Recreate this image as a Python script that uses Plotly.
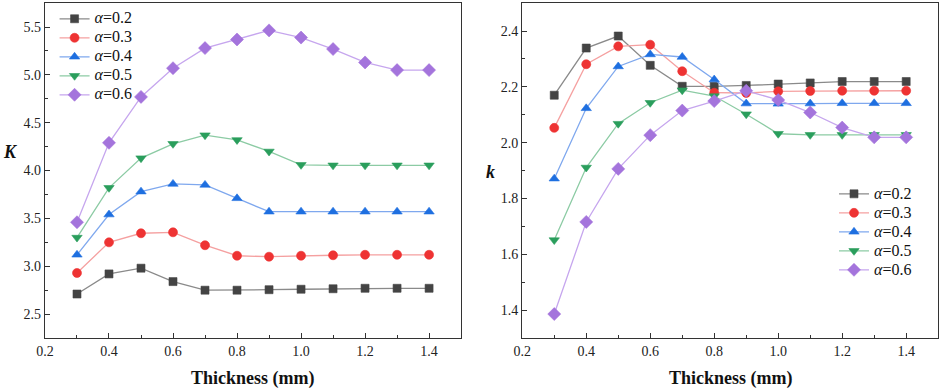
import plotly.graph_objects as go

thickness = [0.3, 0.4, 0.5, 0.6, 0.7, 0.8, 0.9, 1.0, 1.1, 1.2, 1.3, 1.4]
alphas = ["0.2", "0.3", "0.4", "0.5", "0.6"]

K_02 = [2.71, 2.92, 2.98, 2.84, 2.75, 2.75, 2.755, 2.76, 2.765, 2.77, 2.77, 2.77]
K_03 = [2.93, 3.25, 3.345, 3.355, 3.22, 3.11, 3.10, 3.11, 3.115, 3.12, 3.12, 3.12]
K_04 = [3.12, 3.54, 3.78, 3.86, 3.85, 3.71, 3.57, 3.57, 3.57, 3.57, 3.57, 3.57]
K_05 = [3.30, 3.82, 4.13, 4.28, 4.37, 4.32, 4.20, 4.06, 4.055, 4.055, 4.055, 4.055]
K_06 = [3.46, 4.29, 4.77, 5.07, 5.28, 5.37, 5.465, 5.39, 5.27, 5.13, 5.05, 5.05]

k_02 = [2.17, 2.339, 2.382, 2.277, 2.202, 2.202, 2.205, 2.21, 2.214, 2.219, 2.219, 2.219]
k_03 = [2.053, 2.281, 2.345, 2.351, 2.256, 2.179, 2.178, 2.184, 2.185, 2.186, 2.186, 2.186]
k_04 = [1.871, 2.123, 2.273, 2.316, 2.307, 2.226, 2.140, 2.139, 2.140, 2.141, 2.141, 2.141]
k_05 = [1.651, 1.911, 2.068, 2.143, 2.188, 2.167, 2.102, 2.032, 2.028, 2.028, 2.028, 2.028]
k_06 = [1.386, 1.716, 1.906, 2.027, 2.115, 2.149, 2.186, 2.153, 2.108, 2.054, 2.019, 2.019]

K_series = [K_02, K_03, K_04, K_05, K_06]
k_series = [k_02, k_03, k_04, k_05, k_06]

marker_colors = ["#444444", "#EE3333", "#1E6FE0", "#2A9E5C", "#A474DC"]
line_colors = ["#8A8A8A", "#F5A0A0", "#7FA8EE", "#8CCBA4", "#C6A6EE"]
symbols = ["square", "circle", "triangle-up", "triangle-down", "diamond"]
sizes = [8, 9, 9, 9, 10]

FONT = "Liberation Serif, Times New Roman, serif"

fig = go.Figure()
for i, a in enumerate(alphas):
    for series, xa, ya, lg in [(K_series, "x", "y", "legend"), (k_series, "x2", "y2", "legend2")]:
        fig.add_trace(go.Scatter(
            x=thickness, y=series[i], xaxis=xa, yaxis=ya, legend=lg,
            mode="lines+markers",
            name="<span style='font-size:16px'><i>α</i>=" + a + "</span>",
            line=dict(color=line_colors[i], width=1.3),
            marker=dict(symbol=symbols[i], size=sizes[i],
                        color=marker_colors[i],
                        line=dict(color=marker_colors[i], width=0.6)),
        ))

axis_common = dict(
    showline=True, linecolor="#333333", linewidth=1.2, mirror=True,
    ticks="inside", ticklen=5, tickwidth=1, tickcolor="#333333",
    showgrid=False, zeroline=False, automargin=False,
    tickfont=dict(family=FONT, size=14, color="#222222"),
)
xticks = [0.2, 0.4, 0.6, 0.8, 1.0, 1.2, 1.4]
xticktext = ["0.2", "0.4", "0.6", "0.8", "1.0", "1.2", "1.4"]
title_font = dict(family=FONT, size=18, color="#111111")

fig.update_layout(
    width=941, height=389,
    margin=dict(l=0, r=0, t=0, b=0),
    paper_bgcolor="white", plot_bgcolor="white",
    font=dict(family=FONT),
    xaxis=dict(domain=[0.0478, 0.490], range=[0.2, 1.5], tickvals=xticks, ticktext=xticktext,
               minor=dict(dtick=0.1, ticks="inside", ticklen=3, tickcolor="#333333"),
               anchor="y", **axis_common),
    yaxis=dict(domain=[0.131, 0.992], range=[2.25, 5.75], dtick=0.5, tickformat=".1f",
               minor=dict(dtick=0.25, ticks="inside", ticklen=3, tickcolor="#333333"),
               anchor="x", **axis_common),
    xaxis2=dict(domain=[0.555, 0.997], range=[0.2, 1.5], tickvals=xticks, ticktext=xticktext,
                minor=dict(dtick=0.1, ticks="inside", ticklen=3, tickcolor="#333333"),
                anchor="y2", **axis_common),
    yaxis2=dict(domain=[0.131, 0.992], range=[1.3, 2.5], dtick=0.2, tickformat=".1f",
                minor=dict(dtick=0.1, ticks="inside", ticklen=3, tickcolor="#333333"),
                anchor="x2", **axis_common),
    legend=dict(x=0.058, y=0.989, xanchor="left", yanchor="top", bgcolor="rgba(0,0,0,0)",
                font=dict(family=FONT, size=12, color="#111111"), tracegroupgap=0, itemwidth=30),
    legend2=dict(x=0.8863, y=0.539, xanchor="left", yanchor="top", bgcolor="rgba(0,0,0,0)",
                 font=dict(family=FONT, size=12, color="#111111"), tracegroupgap=0, itemwidth=30),
    showlegend=True,
    annotations=[
        dict(text="<b>Thickness (mm)</b>", x=253 / 941, y=1 - 378 / 389, xref="paper", yref="paper",
             xanchor="center", yanchor="middle", showarrow=False, font=title_font),
        dict(text="<b>Thickness (mm)</b>", x=731 / 941, y=1 - 378 / 389, xref="paper", yref="paper",
             xanchor="center", yanchor="middle", showarrow=False, font=title_font),
        dict(text="<b><i>K</i></b>", x=10 / 941, y=1 - 152 / 389, xref="paper", yref="paper",
             xanchor="center", yanchor="middle", showarrow=False, font=title_font),
        dict(text="<b><i>k</i></b>", x=490 / 941, y=1 - 172 / 389, xref="paper", yref="paper",
             xanchor="center", yanchor="middle", showarrow=False, font=title_font),
    ],
)

fig.write_html("out.html", config={"displayModeBar": False},
               post_script="document.body.style.margin='0';document.body.style.overflow='hidden';")
